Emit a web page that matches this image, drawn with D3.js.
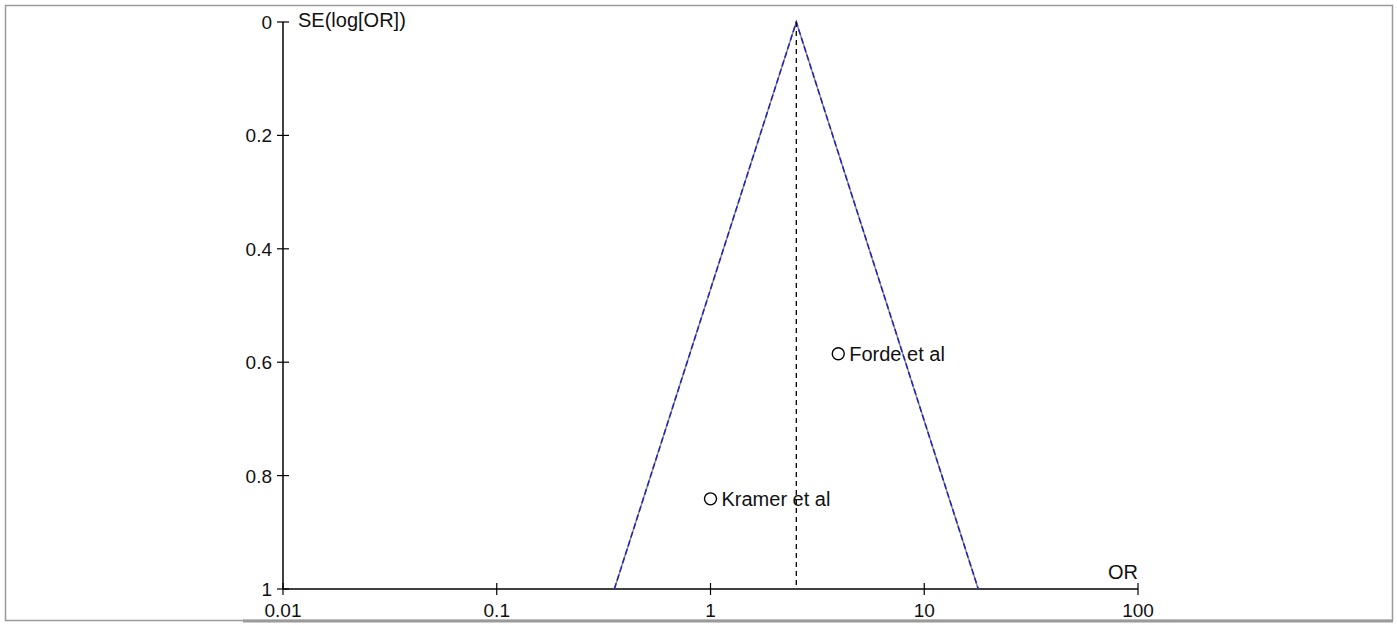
<!DOCTYPE html>
<html>
<head>
<meta charset="utf-8">
<script src="https://cdn.jsdelivr.net/npm/d3@7"></script>
<style>
  body { margin: 0; background: #fff; }
  text { font-family: "Liberation Sans", Arial, sans-serif; fill: #111; }
</style>
</head>
<body>
<div class="canvas"></div>
<script>
var width = 1397,
    height = 625;

// studies
var studies = ["Forde et al", "Kramer et al"];
var studyOR = [3.96, 1.0];
var studySE = [0.585, 0.841];

// pooled estimate and funnel
var pooledOR = 2.52;
var seMax = 1;

// axes
var xTicks = [0.01, 0.1, 1, 10, 100];
var xTickLabels = ["0.01", "0.1", "1", "10", "100"];
var yTicks = [0, 0.2, 0.4, 0.6, 0.8, 1];
var yTickLabels = ["0", "0.2", "0.4", "0.6", "0.8", "1"];

var svg = d3.select(".canvas").append("svg")
    .attr("width", width)
    .attr("height", height);

// frame
svg.append("rect")
    .attr("x", 5.5).attr("y", 5.5)
    .attr("width", 1387).attr("height", 615)
    .attr("fill", "none")
    .attr("stroke", "#9a9a9a")
    .attr("stroke-width", 1.5);
svg.append("line")
    .attr("x1", 243).attr("x2", 1393)
    .attr("y1", 621).attr("y2", 621)
    .attr("stroke", "#9a9a9a")
    .attr("stroke-width", 3);

var x = d3.scaleLog().domain([0.01, 100]).range([283, 1138]);
var y = d3.scaleLinear().domain([0, 1]).range([22, 589]);

// y axis
svg.append("line")
    .attr("x1", x(0.01)).attr("x2", x(0.01))
    .attr("y1", y(0)).attr("y2", y(1))
    .attr("stroke", "#000").attr("stroke-width", 1.5);
svg.selectAll(".ytick").data(yTicks).enter().append("line")
    .attr("x1", x(0.01) - 6).attr("x2", x(0.01) + 6)
    .attr("y1", d => y(d)).attr("y2", d => y(d))
    .attr("stroke", "#000").attr("stroke-width", 1.2);
svg.selectAll(".ylab").data(yTicks).enter().append("text")
    .attr("x", x(0.01) - 11)
    .attr("y", d => y(d) + 7)
    .attr("text-anchor", "end")
    .attr("font-size", 19)
    .text((d, i) => yTickLabels[i]);
svg.append("text")
    .attr("x", x(0.01) + 15).attr("y", y(0) + 5)
    .attr("font-size", 20)
    .text("SE(log[OR])");

// x axis
svg.append("line")
    .attr("x1", x(0.01)).attr("x2", x(100))
    .attr("y1", y(1)).attr("y2", y(1))
    .attr("stroke", "#000").attr("stroke-width", 1.5);
svg.selectAll(".xtick").data(xTicks).enter().append("line")
    .attr("x1", d => x(d)).attr("x2", d => x(d))
    .attr("y1", y(1) - 6).attr("y2", y(1) + 6)
    .attr("stroke", "#000").attr("stroke-width", 1.2);
svg.selectAll(".xlab").data(xTicks).enter().append("text")
    .attr("x", d => x(d))
    .attr("y", y(1) + 28)
    .attr("text-anchor", "middle")
    .attr("font-size", 19)
    .text((d, i) => xTickLabels[i]);
svg.append("text")
    .attr("x", x(100)).attr("y", y(1) - 10)
    .attr("text-anchor", "end")
    .attr("font-size", 20)
    .text("OR");

// funnel
var lnP = Math.log(pooledOR);
var funnel = [
  [Math.exp(lnP - 1.96 * seMax), seMax],
  [pooledOR, 0],
  [Math.exp(lnP + 1.96 * seMax), seMax]
];
var line = d3.line().x(d => x(d[0])).y(d => y(d[1]));
svg.append("path").datum(funnel)
    .attr("d", line)
    .attr("fill", "none")
    .attr("stroke", "#8a8a8a")
    .attr("stroke-width", 1.5);
svg.append("path").datum(funnel)
    .attr("d", line)
    .attr("fill", "none")
    .attr("stroke", "#2020c8")
    .attr("stroke-width", 1.5)
    .attr("stroke-dasharray", "6,3");

// pooled line
svg.append("line")
    .attr("x1", x(pooledOR)).attr("x2", x(pooledOR))
    .attr("y1", y(0)).attr("y2", y(1))
    .attr("stroke", "#000")
    .attr("stroke-width", 1.3)
    .attr("stroke-dasharray", "5,4");

// studies
var pts = studies.map((s, i) => ({name: s, or: studyOR[i], se: studySE[i]}));
svg.selectAll(".pt").data(pts).enter().append("circle")
    .attr("cx", d => x(d.or))
    .attr("cy", d => y(d.se))
    .attr("r", 6)
    .attr("fill", "#fff")
    .attr("stroke", "#000")
    .attr("stroke-width", 1.4);
svg.selectAll(".ptlab").data(pts).enter().append("text")
    .attr("x", d => x(d.or) + 11)
    .attr("y", d => y(d.se) + 7)
    .attr("font-size", 20)
    .text(d => d.name);
</script>
</body>
</html>
